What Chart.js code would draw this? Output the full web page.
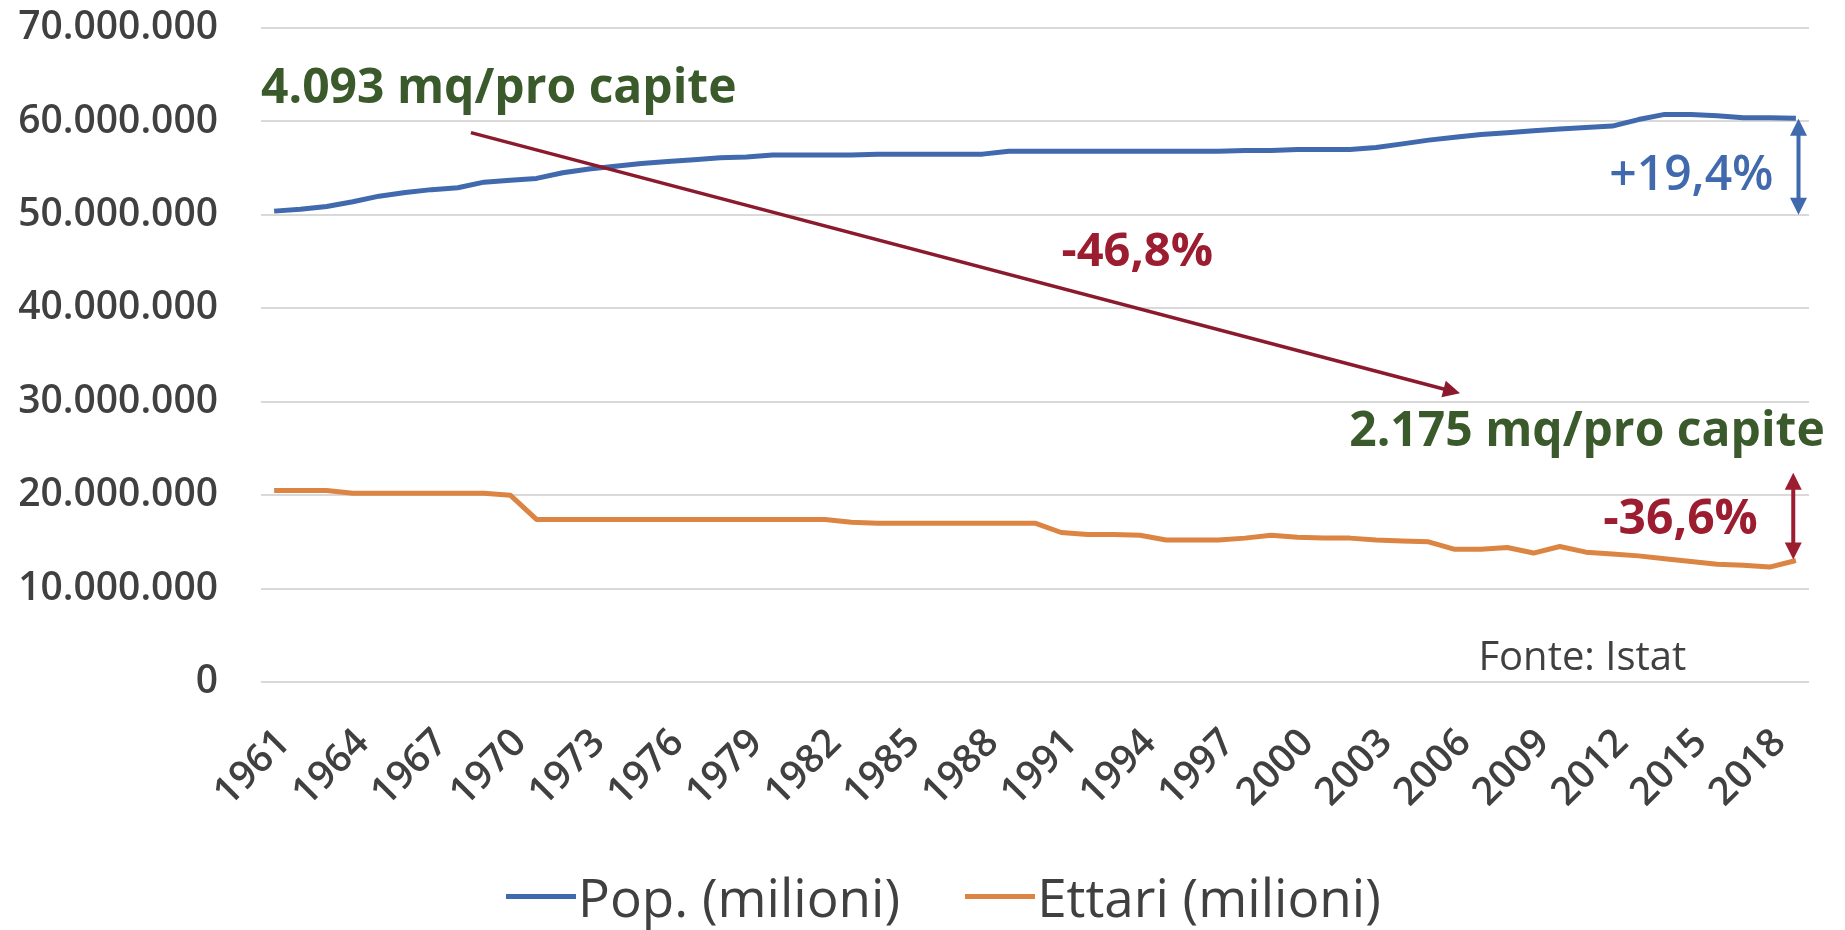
<!DOCTYPE html>
<html>
<head>
<meta charset="utf-8">
<script src="https://cdn.jsdelivr.net/npm/chart.js@4.4.1/dist/chart.umd.min.js"></script>
<style>
  html, body { margin: 0; padding: 0; background: #fff; }
  #wrap { width: 1845px; height: 930px; position: relative; }
  #legend {
    position: absolute; left: 506px; top: 866px; height: 60px;
    display: flex; align-items: center;
    font-family: 'Open Sans', sans-serif; font-size: 53px; color: #404040;
    white-space: nowrap;
  }
  #legend .item { display: flex; align-items: center; margin-right: 65px; }
  #legend .swatch { display: inline-block; width: 70px; height: 5px; margin-right: 2px; }
</style>
</head>
<body>
<div id="wrap">
  <canvas id="chart"></canvas>
  <div id="legend"></div>
</div>
<script>
// anni (categorie)
const years = [1961, 1962, 1963, 1964, 1965, 1966, 1967, 1968, 1969, 1970,
  1971, 1972, 1973, 1974, 1975, 1976, 1977, 1978, 1979, 1980,
  1981, 1982, 1983, 1984, 1985, 1986, 1987, 1988, 1989, 1990,
  1991, 1992, 1993, 1994, 1995, 1996, 1997, 1998, 1999, 2000,
  2001, 2002, 2003, 2004, 2005, 2006, 2007, 2008, 2009, 2010,
  2011, 2012, 2013, 2014, 2015, 2016, 2017, 2018, 2019];

// anni con etichetta sull'asse x
const tickYears = [1961, 1964, 1967, 1970, 1973, 1976, 1979, 1982, 1985, 1988,
  1991, 1994, 1997, 2000, 2003, 2006, 2009, 2012, 2015, 2018];

// popolazione, milioni
const popolazione = [50.4, 50.6, 50.9, 51.4, 52.0, 52.4, 52.7, 52.9, 53.5, 53.7,
  53.9, 54.5, 54.9, 55.2, 55.5, 55.7, 55.9, 56.1, 56.2, 56.4,
  56.4, 56.4, 56.4, 56.5, 56.5, 56.5, 56.5, 56.5, 56.8, 56.8,
  56.8, 56.8, 56.8, 56.8, 56.8, 56.8, 56.8, 56.9, 56.9, 57.0,
  57.0, 57.0, 57.2, 57.6, 58.0, 58.3, 58.6, 58.8, 59.0, 59.2,
  59.35, 59.5, 60.2, 60.75, 60.75, 60.6, 60.4, 60.4, 60.35];

// ettari, milioni
const ettari = [20.5, 20.5, 20.5, 20.2, 20.2, 20.2, 20.2, 20.2, 20.2, 20.0,
  17.4, 17.4, 17.4, 17.4, 17.4, 17.4, 17.4, 17.4, 17.4, 17.4,
  17.4, 17.4, 17.1, 17.0, 17.0, 17.0, 17.0, 17.0, 17.0, 17.0,
  16.0, 15.8, 15.8, 15.7, 15.2, 15.2, 15.2, 15.4, 15.7, 15.5,
  15.4, 15.4, 15.2, 15.1, 15.0, 14.2, 14.2, 14.4, 13.8, 14.5,
  13.9, 13.7, 13.5, 13.2, 12.9, 12.6, 12.5, 12.3, 13.0];

const seriesNames = ["Pop. (milioni)", "Ettari (milioni)"];

const BLUE = "#4169ad";
const ORANGE = "#dc8442";
const GREEN = "#3a5a2c";
const RED = "#9c1c30";
const GREY = "#404040";

// note: x = indice anno (frazionario), y = milioni
const notes = [
  { text: "4.093 mq/pro capite", x: -0.5, y: 63.4, align: "left", color: GREEN, size: 48, weight: "bold" },
  { text: "-46,8%", x: 32.9, y: 46.0, align: "center", color: RED, size: 47, weight: "bold" },
  { text: "2.175 mq/pro capite", x: 59.1, y: 26.7, align: "right", color: GREEN, size: 48, weight: "bold" },
  { text: "+19,4%", x: 57.15, y: 54.1, align: "right", color: BLUE, size: 48, weight: "600" },
  { text: "-36,6%", x: 56.55, y: 17.3, align: "right", color: RED, size: 48, weight: "bold" },
  { text: "Fonte: Istat", x: 45.9, y: 2.5, align: "left", color: GREY, size: 40, weight: "normal" }
];

const arrows = [
  { from: [7.5, 58.8], to: [45.2, 30.9], color: "#8b1a2e", width: 3.5, both: false },
  { from: [58.1, 50.0], to: [58.1, 60.3], color: BLUE, width: 4, both: true },
  { from: [57.9, 13.1], to: [57.9, 22.4], color: RED, width: 4, both: true }
];

function head(ctx, tx, ty, ang, len, half) {
  ctx.beginPath();
  ctx.moveTo(tx, ty);
  ctx.lineTo(tx - len * Math.cos(ang) + half * Math.sin(ang), ty - len * Math.sin(ang) - half * Math.cos(ang));
  ctx.lineTo(tx - len * Math.cos(ang) - half * Math.sin(ang), ty - len * Math.sin(ang) + half * Math.cos(ang));
  ctx.closePath();
  ctx.fill();
}

const notesPlugin = {
  id: "notes",
  afterDatasetsDraw(chart) {
    const { ctx } = chart;
    const xs = chart.scales.x, ys = chart.scales.y;
    ctx.save();
    arrows.forEach(a => {
      const x1 = xs.getPixelForValue(a.from[0]), y1 = ys.getPixelForValue(a.from[1]);
      const x2 = xs.getPixelForValue(a.to[0]), y2 = ys.getPixelForValue(a.to[1]);
      const ang = Math.atan2(y2 - y1, x2 - x1);
      const len = 17, half = 8.5;
      ctx.strokeStyle = a.color;
      ctx.fillStyle = a.color;
      ctx.lineWidth = a.width;
      ctx.beginPath();
      ctx.moveTo(a.both ? x1 + (len - 2) * Math.cos(ang) : x1, a.both ? y1 + (len - 2) * Math.sin(ang) : y1);
      ctx.lineTo(x2 - (len - 2) * Math.cos(ang), y2 - (len - 2) * Math.sin(ang));
      ctx.stroke();
      head(ctx, x2, y2, ang, len, half);
      if (a.both) head(ctx, x1, y1, ang + Math.PI, len, half);
    });
    notes.forEach(n => {
      ctx.font = n.weight + " " + n.size + "px 'Open Sans', sans-serif";
      ctx.fillStyle = n.color;
      ctx.textAlign = n.align;
      ctx.textBaseline = "middle";
      ctx.fillText(n.text, xs.getPixelForValue(n.x), ys.getPixelForValue(n.y));
    });
    ctx.restore();
  }
};

// legenda in HTML sotto il grafico
const htmlLegend = {
  id: "htmlLegend",
  afterUpdate(chart) {
    const box = document.getElementById("legend");
    box.innerHTML = "";
    chart.data.datasets.forEach(d => {
      const item = document.createElement("div");
      item.className = "item";
      const swatch = document.createElement("span");
      swatch.className = "swatch";
      swatch.style.background = d.borderColor;
      const txt = document.createElement("span");
      txt.textContent = d.label;
      item.append(swatch, txt);
      box.appendChild(item);
    });
  }
};

Chart.defaults.font.family = "'Open Sans', sans-serif";
Chart.defaults.color = GREY;

const PLOT_LEFT = 261, PLOT_BOTTOM = 682;

new Chart(document.getElementById("chart"), {
  type: "line",
  data: {
    labels: years,
    datasets: [
      { label: seriesNames[0], data: popolazione, borderColor: BLUE, backgroundColor: BLUE, borderWidth: 5, pointRadius: 0, borderJoinStyle: "round" },
      { label: seriesNames[1], data: ettari, borderColor: ORANGE, backgroundColor: ORANGE, borderWidth: 5, pointRadius: 0, borderJoinStyle: "round" }
    ]
  },
  options: {
    responsive: true,
    maintainAspectRatio: false,
    animation: false,
    layout: { padding: { top: 0, right: 36, left: 0, bottom: 0 } },
    plugins: {
      tooltip: { enabled: false },
      legend: { display: false }
    },
    scales: {
      x: {
        offset: true,
        grid: { display: false },
        border: { display: false },
        afterFit: (s) => {
          s.height = s.chart.height - PLOT_BOTTOM;
          s.paddingLeft = 0;
          s.paddingRight = 0;
        },
        ticks: {
          autoSkip: false,
          minRotation: 45,
          maxRotation: 45,
          font: { size: 39, weight: "600" },
          color: GREY,
          padding: 30,
          labelOffset: 10,
          callback: (v, i) => tickYears.includes(years[i]) ? String(years[i]) : ""
        }
      },
      y: {
        min: 0,
        max: 70,
        afterFit: (s) => { s.width = PLOT_LEFT; s.paddingTop = 28; s.paddingBottom = 28; },
        grid: { color: "#d9d9d9", lineWidth: 2, drawTicks: false },
        border: { display: false },
        ticks: {
          stepSize: 10,
          padding: 43,
          font: { size: 39, weight: "600" },
          color: GREY,
          callback: (v) => (v * 1000000).toLocaleString("it-IT")
        }
      }
    }
  },
  plugins: [notesPlugin, htmlLegend]
});
</script>
</body>
</html>
